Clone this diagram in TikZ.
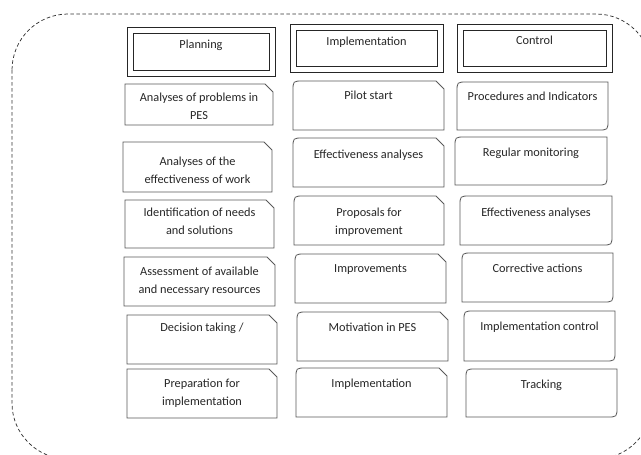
\documentclass[tikz,border=0pt]{standalone}
\usepackage{fontspec}
\setmainfont{Carlito}
\usetikzlibrary{calc}
\begin{document}
\begin{tikzpicture}[x=1pt,y=-1pt,
  cell/.style={draw=none,inner sep=0pt,outer sep=0pt,anchor=north west},
  edge/.style={draw=black!65,line width=0.8pt},
  headedge/.style={draw=black!85,line width=0.8pt},
  celltext/.style={inner sep=0pt,anchor=north,align=center,text=black!85,
    font=\fontsize{12.3}{18.5}\selectfont},
  frame/.style={draw=black!80,line width=0.75pt,dash pattern=on 3.5pt off 2.5pt}]

\useasboundingbox (0,0) rectangle (641,455);
\clip (0,0) rectangle (641,455);

% outer dashed frame
\draw[frame,rounded corners=56pt] (12,14) rectangle (652,459);

% header: double-framed box  #1 name, #2 x, #3 y, #4 w, #5 h, #6 text centre y, #7 text
\newcommand\headbox[7]{%
  \node[cell,minimum width=#4,minimum height=#5] (#1) at (#2,#3) {};
  \draw[headedge] (#1.north west) rectangle (#1.south east);
  \draw[headedge] ([xshift=6pt,yshift=-6pt]#1.north west) rectangle ([xshift=-6pt,yshift=6pt]#1.south east);
  \node[celltext] (#1-t) at ($(#1.north)+(0,#6-#3-5.5)$) {#7};}

% planning step: snipped top-right corner
\newcommand\snipbox[7]{%
  \node[cell,minimum width=#4,minimum height=#5] (#1) at (#2,#3) {};
  \draw[edge] (#1.north west) -- ([xshift=-8pt]#1.north east) -- ([yshift=-8pt]#1.north east)
    -- (#1.south east) -- (#1.south west) -- cycle;
  \node[celltext] (#1-t) at ($(#1.north)+(0,#6-#3-5.5)$) {#7};}

% implementation step: rounded top-left, snipped top-right
\newcommand\roundsnipbox[7]{%
  \node[cell,minimum width=#4,minimum height=#5] (#1) at (#2,#3) {};
  \draw[edge] (#1.south west) -- ([yshift=-10pt]#1.north west)
    .. controls (#1.north west) .. ([xshift=10pt]#1.north west)
    -- ([xshift=-8pt]#1.north east) -- ([yshift=-8pt]#1.north east)
    -- (#1.south east) -- cycle;
  \node[celltext] (#1-t) at ($(#1.north)+(0,#6-#3-5.5)$) {#7};}

% control step: rounded top-left and bottom-right
\newcommand\rounddiagbox[7]{%
  \node[cell,minimum width=#4,minimum height=#5] (#1) at (#2,#3) {};
  \draw[edge] ([yshift=-10pt]#1.north west)
    .. controls (#1.north west) .. ([xshift=10pt]#1.north west)
    -- (#1.north east) -- ([yshift=10pt]#1.south east)
    .. controls (#1.south east) .. ([xshift=-10pt]#1.south east)
    -- (#1.south west) -- cycle;
  \node[celltext] (#1-t) at ($(#1.north)+(0,#6-#3-5.5)$) {#7};}

% column headers
\headbox{plan}{127}{27}{148}{49}{45}{Planning}
\headbox{impl}{290}{24}{153}{48}{42}{Implementation}
\headbox{ctrl}{457}{24}{155}{48}{41}{Control}

% planning column
\snipbox{p1}{125}{84}{148}{41}{98}{Analyses of problems in\\PES}
\snipbox{p2}{123}{142}{149}{50}{162}{Analyses of the\\effectiveness of work}
\snipbox{p3}{125}{200}{149}{48}{213}{Identification of needs\\and solutions}
\snipbox{p4}{124}{257}{151}{49}{272}{Assessment of available\\and necessary resources}
\snipbox{p5}{127}{315}{150}{49}{328}{Decision taking /}
\snipbox{p6}{127}{369}{150}{49}{384}{Preparation for\\implementation}

% implementation column
\roundsnipbox{i1}{293}{81}{151}{49}{96}{Pilot start}
\roundsnipbox{i2}{293}{138}{151}{49}{155}{Effectiveness analyses}
\roundsnipbox{i3}{294}{196}{150}{49}{213}{Proposals for\\improvement}
\roundsnipbox{i4}{295}{254}{151}{49}{270}{Improvements}
\roundsnipbox{i5}{297}{312}{151}{49}{328}{Motivation in PES}
\roundsnipbox{i6}{296}{368}{151}{49}{384}{Implementation}

% control column
\rounddiagbox{c1}{457}{82}{151}{48}{97}{Procedures and Indicators}
\rounddiagbox{c2}{455}{137}{152}{48}{153}{Regular monitoring}
\rounddiagbox{c3}{460}{196}{152}{49}{213}{Effectiveness analyses}
\rounddiagbox{c4}{462}{253}{151}{49}{269}{Corrective actions}
\rounddiagbox{c5}{464}{311}{151}{50}{327}{Implementation control}
\rounddiagbox{c6}{466}{369}{151}{48}{385}{Tracking}
\end{tikzpicture}
\end{document}
